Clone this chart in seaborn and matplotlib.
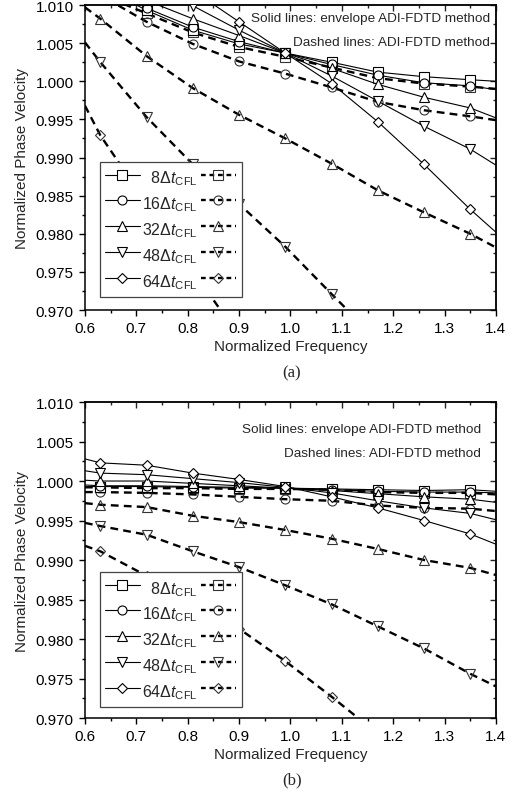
import numpy as np
import pandas as pd
import matplotlib
matplotlib.use("Agg")
import matplotlib.pyplot as plt
import matplotlib.lines as mlines
from matplotlib.ticker import MultipleLocator
import seaborn as sns

# normalized frequency samples (markers drawn on the inner nine)
freq = [0.60, 0.63, 0.72, 0.81, 0.90, 0.99, 1.08, 1.17, 1.26, 1.35, 1.40]

steps = [8, 16, 32, 48, 64]
markers = ["s", "o", "^", "v", "D"]

# (a) envelope ADI-FDTD (solid)
a_env_8 = [1.0145, 1.0125, 1.0093, 1.0067, 1.0049, 1.0037, 1.0025, 1.0012, 1.0006, 1.0002, 1.0000]
a_env_16 = [1.0150, 1.0130, 1.0096, 1.0071, 1.0052, 1.0037, 1.0022, 1.0008, 0.9998, 0.9994, 0.9989]
a_env_32 = [1.0165, 1.0145, 1.0106, 1.0082, 1.0060, 1.0037, 1.0017, 0.9996, 0.9979, 0.9965, 0.9952]
a_env_48 = [1.0190, 1.0170, 1.0135, 1.0099, 1.0067, 1.0037, 1.0007, 0.9974, 0.9941, 0.9911, 0.9890]
a_env_64 = [1.0220, 1.0200, 1.0160, 1.0119, 1.0078, 1.0037, 0.9997, 0.9947, 0.9891, 0.9832, 0.9802]
# (a) ADI-FDTD (dashed)
a_adi_8 = [1.0125, 1.0114, 1.0089, 1.0064, 1.0045, 1.0032, 1.0018, 1.0004, 0.9997, 0.9993, 0.9990]
a_adi_16 = [1.0125, 1.0113, 1.0078, 1.0049, 1.0026, 1.0010, 0.9992, 0.9973, 0.9962, 0.9954, 0.9949]
a_adi_32 = [1.0097, 1.0082, 1.0033, 0.9991, 0.9956, 0.9925, 0.9892, 0.9857, 0.9828, 0.9800, 0.9782]
a_adi_48 = [1.0051, 1.0025, 0.9953, 0.9891, 0.9839, 0.9783, 0.9721, 0.9660, 0.9600, 0.9540, 0.9505]
a_adi_64 = [0.9968, 0.9929, 0.9840, 0.9752, 0.9665, 0.9580, 0.9495, 0.9410, 0.9325, 0.9240, 0.9200]

# (b) envelope ADI-FDTD (solid)
b_env_8 = [0.9993, 0.9993, 0.9993, 0.9992, 0.9991, 0.9991, 0.9990, 0.9989, 0.9988, 0.9989, 0.9987]
b_env_16 = [0.9995, 0.9994, 0.9994, 0.9993, 0.9992, 0.9991, 0.9989, 0.9987, 0.9986, 0.9986, 0.9985]
b_env_32 = [1.0001, 1.0000, 1.0000, 0.9997, 0.9994, 0.9991, 0.9988, 0.9984, 0.9980, 0.9977, 0.9973]
b_env_48 = [1.0013, 1.0010, 1.0008, 1.0003, 0.9998, 0.9992, 0.9985, 0.9975, 0.9966, 0.9959, 0.9951]
b_env_64 = [1.0028, 1.0023, 1.0020, 1.0010, 1.0002, 0.9993, 0.9980, 0.9966, 0.9950, 0.9933, 0.9920]
# (b) ADI-FDTD (dashed)
b_adi_8 = [0.9992, 0.9992, 0.9991, 0.9991, 0.9990, 0.9990, 0.9989, 0.9986, 0.9985, 0.9985, 0.9983]
b_adi_16 = [0.9986, 0.9986, 0.9985, 0.9983, 0.9980, 0.9977, 0.9975, 0.9969, 0.9966, 0.9965, 0.9962]
b_adi_32 = [0.9972, 0.9970, 0.9967, 0.9956, 0.9948, 0.9938, 0.9927, 0.9914, 0.9900, 0.9890, 0.9881]
b_adi_48 = [0.9947, 0.9943, 0.9932, 0.9911, 0.9891, 0.9868, 0.9844, 0.9816, 0.9788, 0.9756, 0.9740]
b_adi_64 = [0.9918, 0.9911, 0.9880, 0.9848, 0.9813, 0.9772, 0.9727, 0.9680, 0.9630, 0.9575, 0.9545]

panels = [
    ("(a)", [a_env_8, a_env_16, a_env_32, a_env_48, a_env_64],
     [a_adi_8, a_adi_16, a_adi_32, a_adi_48, a_adi_64]),
    ("(b)", [b_env_8, b_env_16, b_env_32, b_env_48, b_env_64],
     [b_adi_8, b_adi_16, b_adi_32, b_adi_48, b_adi_64]),
]

sns.set_style("ticks")
plt.rcParams["font.family"] = ["Liberation Sans", "DejaVu Sans"]
plt.rcParams["mathtext.fontset"] = "custom"
plt.rcParams["mathtext.rm"] = "Liberation Sans"
plt.rcParams["mathtext.it"] = "Liberation Sans:italic"
plt.rcParams["mathtext.bf"] = "Liberation Sans:bold"

fig = plt.figure(figsize=(5.18, 8.03), dpi=100)
axes_pos = [[0.164, 0.6127, 0.7934, 0.3798], [0.164, 0.1046, 0.7934, 0.3935]]
text_pos = [(0.985, 0.957, 0.879), (0.9635, 0.915, 0.839)]
legend_anchor = [(0.0365, 0.043), (0.0365, 0.035)]
caption_y = [1 - 373 / 803, 1 - 780 / 803]

for i, (tag, env, adi) in enumerate(panels):
    ax = fig.add_axes(axes_pos[i])
    for vals, mk in zip(env, markers):
        ms = 5.4 if mk == "D" else 6.5
        sns.lineplot(x=freq, y=vals, ax=ax, color="black", lw=0.8,
                     marker=mk, markersize=ms, markevery=slice(1, 10),
                     markerfacecolor="white", markeredgecolor="black",
                     markeredgewidth=0.8, zorder=3)
    for vals, mk in zip(adi, markers):
        ms = 5.4 if mk == "D" else 6.5
        sns.lineplot(x=freq, y=vals, ax=ax, color="black", lw=1.7,
                     marker=mk, markersize=ms, markevery=slice(1, 10),
                     markerfacecolor="none", markeredgecolor="#333333",
                     markeredgewidth=0.8, zorder=2)
        ax.lines[-1].set_dashes((3.3, 2.2))

    ax.set_xlim(0.6, 1.4)
    ax.set_ylim(0.970, 1.010)
    ax.xaxis.set_major_locator(MultipleLocator(0.1))
    ax.xaxis.set_minor_locator(MultipleLocator(0.05))
    ax.yaxis.set_major_locator(MultipleLocator(0.005))
    ax.yaxis.set_minor_locator(MultipleLocator(0.0025))
    ax.xaxis.set_major_formatter(plt.FuncFormatter(lambda v, p: f"{v:.1f}"))
    ax.yaxis.set_major_formatter(plt.FuncFormatter(lambda v, p: f"{v:.3f}"))
    ax.tick_params(which="both", direction="out", top=False, right=False,
                   labelsize=11, width=1.0, color="black", labelcolor="black")
    ax.tick_params(which="major", length=4, pad=4)
    ax.tick_params(which="minor", length=2.5)
    for side in ["left", "bottom", "top", "right"]:
        ax.spines[side].set_linewidth(1.1)
        ax.spines[side].set_color("black")

    # inward ticks on top and right
    sec_x = ax.secondary_xaxis("top")
    sec_x.xaxis.set_major_locator(MultipleLocator(0.1))
    sec_x.xaxis.set_minor_locator(MultipleLocator(0.05))
    sec_x.tick_params(which="both", direction="in", labeltop=False, width=1.0)
    sec_x.tick_params(which="major", length=4)
    sec_x.tick_params(which="minor", length=2.5)
    sec_x.spines["top"].set_linewidth(1.1)
    sec_y = ax.secondary_yaxis("right")
    sec_y.yaxis.set_major_locator(MultipleLocator(0.005))
    sec_y.yaxis.set_minor_locator(MultipleLocator(0.0025))
    sec_y.tick_params(which="both", direction="in", labelright=False, width=1.0)
    sec_y.tick_params(which="major", length=4)
    sec_y.tick_params(which="minor", length=2.5)
    sec_y.spines["right"].set_linewidth(1.1)

    ax.set_xlabel("Normalized Frequency", fontsize=11, labelpad=3)
    ax.set_ylabel("Normalized Phase Velocity", fontsize=11, labelpad=5)

    tx, ty1, ty2 = text_pos[i]
    ax.text(tx, ty1, "Solid lines: envelope ADI-FDTD method", transform=ax.transAxes,
            ha="right", va="center", fontsize=9.7)
    ax.text(tx, ty2, "Dashed lines: ADI-FDTD method", transform=ax.transAxes,
            ha="right", va="center", fontsize=9.7)

    solid_h, dashed_h, labels = [], [], []
    for n, mk in zip(steps, markers):
        ms = 5.4 if mk == "D" else 6.5
        solid_h.append(mlines.Line2D([], [], color="black", lw=0.8, marker=mk,
                                     markersize=ms, markerfacecolor="white",
                                     markeredgecolor="black", markeredgewidth=0.8))
        dl = mlines.Line2D([], [], color="black", lw=1.7, marker=mk, markersize=ms,
                           markerfacecolor="none", markeredgecolor="#333333",
                           markeredgewidth=0.8)
        dl.set_dashes((2.0, 1.6))
        dashed_h.append(dl)
        pad = "  " if n < 10 else ""
        labels.append(pad + f"{n}" + r"$\Delta t_{\mathrm{CFL}}$")
    leg = ax.legend(solid_h + dashed_h, labels + [""] * 5, ncol=2,
                    loc="lower left", bbox_to_anchor=legend_anchor[i],
                    borderaxespad=0, fontsize=11.5, handlelength=2.2,
                    handleheight=1.8, labelspacing=0.2, handletextpad=0.12,
                    columnspacing=0.2, borderpad=0.3, frameon=True,
                    fancybox=False, framealpha=1, edgecolor="#444444")
    leg.get_frame().set_linewidth(0.9)
    leg.set_zorder(5)

    fig.text(0.5637, caption_y[i], tag, ha="center", va="center", fontsize=12,
             family=["Liberation Serif", "DejaVu Serif"])

fig.savefig("out.png", dpi=100)
